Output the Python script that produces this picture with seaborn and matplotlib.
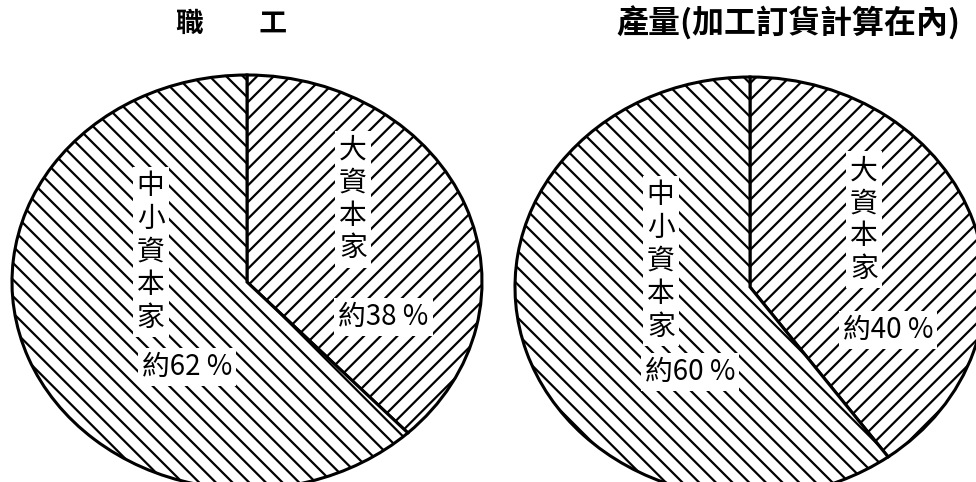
import matplotlib
matplotlib.use("Agg")
import matplotlib.pyplot as plt
import seaborn as sns

sns.set_theme(style="white")
plt.rcParams['font.family'] = ['Noto Sans CJK TC', 'DejaVu Sans']
plt.rcParams['hatch.linewidth'] = 1.6
plt.rcParams['hatch.color'] = 'black'

# ---- data ----
categories = ['大資本家', '中小資本家']
workers_share = [38, 62]
output_share = [40, 60]
titles = ['職　　工', '產量(加工訂貨計算在內)']
hatches = ['//', '\\\\']

fig = plt.figure(figsize=(9.76, 4.82), dpi=100)
fig.patch.set_facecolor('white')

W, H = 976, 482

def make_ax(cx, cy, rx, ry):
    return fig.add_axes([(cx - rx) / W, (H - (cy + ry)) / H, 2 * rx / W, 2 * ry / H])

ax1 = make_ax(247, 282, 235, 207)
ax2 = make_ax(750, 287, 235, 210)

def draw_pie(ax, values, label_pos, pct_pos):
    wedges, _ = ax.pie(values, startangle=90, counterclock=False, radius=1,
                       colors=['white', 'white'],
                       wedgeprops=dict(edgecolor='black', linewidth=2.2))
    for w, h in zip(wedges, hatches):
        w.set_hatch(h)
    ax.set_aspect('auto')
    ax.set_xlim(-1, 1)
    ax.set_ylim(-1, 1)
    ax.axis('off')
    for w in wedges:
        w.set_clip_on(False)
    for cat, val, (lx, ly), (px, py) in zip(categories, values, label_pos, pct_pos):
        ax.text(lx, ly, '\n'.join(cat), ha='center', va='center', fontsize=20,
                linespacing=1.12, color='black', fontweight='medium',
                bbox=dict(facecolor='white', edgecolor='none', pad=3))
        ax.text(px, py, f'約{val} %', ha='center', va='center', fontsize=20,
                color='black', fontweight='medium',
                bbox=dict(facecolor='white', edgecolor='none', pad=3))

draw_pie(ax1, workers_share,
         [(0.45, 0.40), (-0.41, 0.145)],
         [(0.58, -0.17), (-0.255, -0.41)])
draw_pie(ax2, output_share,
         [(0.485, 0.32), (-0.38, 0.124)],
         [(0.587, -0.205), (-0.255, -0.405)])

fig.text(231 / W, 1 - 24 / H, titles[0], ha='center', va='center', fontsize=20,
         fontweight='bold', color='black')
fig.text(788 / W, 1 - 24 / H, titles[1], ha='center', va='center', fontsize=23,
         fontweight='bold', color='black')

fig.savefig('out.png', dpi=100, facecolor='white')
